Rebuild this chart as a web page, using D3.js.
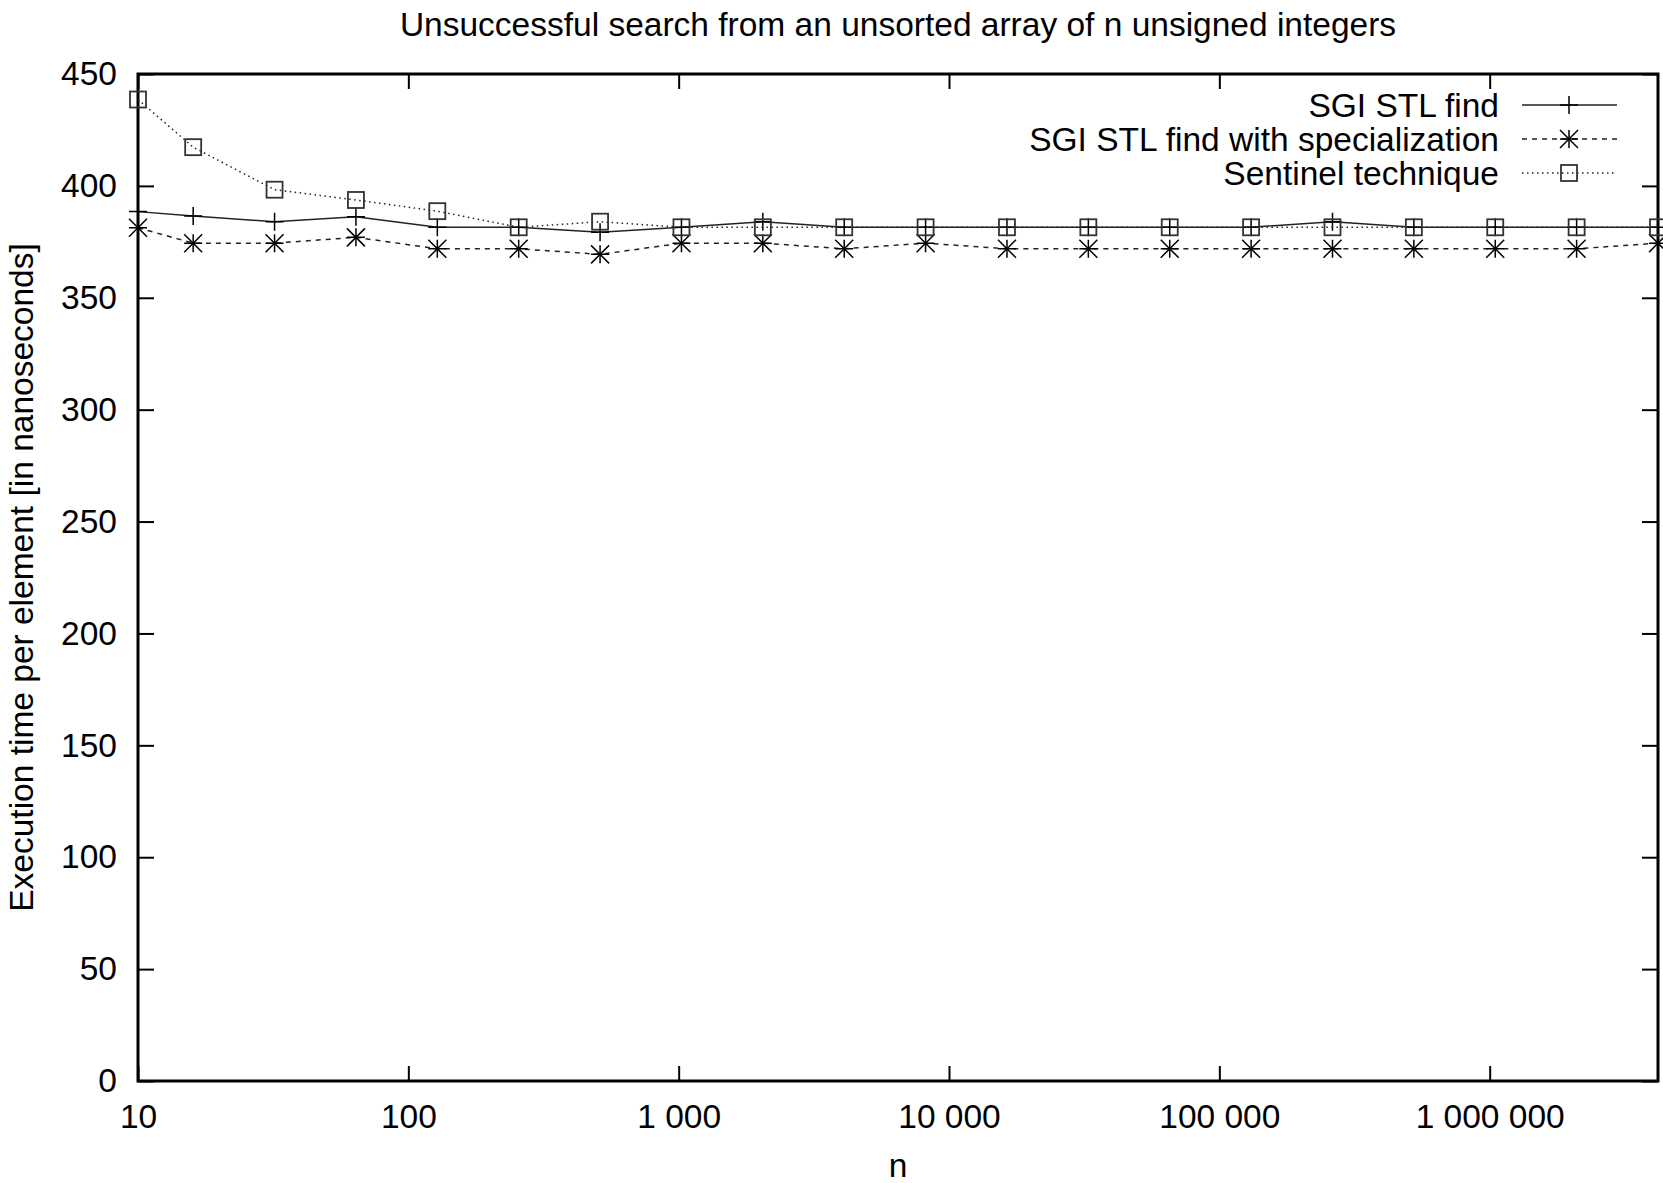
<!DOCTYPE html>
<html lang="en">
<head>
    <meta charset="UTF-8">
    <title>Unsuccessful search</title>
    <script src="https://d3js.org/d3.v7.min.js"></script>
    <style>
        body { margin: 0; background: #fff; }
        text { font-family: "Liberation Sans", Arial, sans-serif; fill: #000; }
    </style>
</head>
<body>
<div id="chart"></div>

<script>
    // sizes of n (powers of two after 10)
    var sizes = [10, 16, 32, 64, 128, 256, 512, 1024, 2048, 4096, 8192, 16384, 32768,
                 65536, 131072, 262144, 524288, 1048576, 2097152, 4194304];

    var stlFind = [388.5, 386.5, 384, 386.2, 381.5, 381.5, 379.3, 381.5, 384, 381.5, 381.5,
                   381.5, 381.5, 381.5, 381.5, 384, 381.5, 381.5, 381.5, 381.5];
    var stlFindSpec = [381.3, 374.4, 374.4, 377, 371.9, 371.9, 369.4, 374.4, 374.4, 371.9, 374.4,
                       371.9, 371.9, 371.9, 371.9, 371.9, 371.9, 371.9, 371.9, 374.4];
    var sentinel = [438.6, 417.3, 398.3, 393.7, 388.7, 381.5, 384, 381.5, 381.5, 381.5, 381.5,
                    381.5, 381.5, 381.5, 381.5, 381.5, 381.5, 381.5, 381.5, 381.5];

    var seriesNames = ["SGI STL find", "SGI STL find with specialization", "Sentinel technique"];
    var xTicks = [10, 100, 1000, 10000, 100000, 1000000];
    var yTicks = [0, 50, 100, 150, 200, 250, 300, 350, 400, 450];

    var w = 1663;
    var h = 1183;
    var plotL = 138, plotR = 1658, plotT = 74, plotB = 1081;
    var fontSize = "33.5px";

    var svg = d3.select("#chart")
                .append("svg")
                .attr("width", w)
                .attr("height", h);

    var x = d3.scaleLog().domain([10, 4194304]).range([plotL, plotR]);
    var y = d3.scaleLinear().domain([0, 450]).range([plotB, plotT]);

    var fmt = function(d) {
        return d3.format(",")(d).replace(/,/g, " ");
    };

    // title
    svg.append("text")
       .attr("x", (plotL + plotR) / 2)
       .attr("y", 36)
       .attr("text-anchor", "middle")
       .style("font-size", fontSize)
       .text("Unsuccessful search from an unsorted array of n unsigned integers");

    // axes with inward ticks on all sides
    var bottomAxis = d3.axisBottom(x).tickValues(xTicks).tickSizeInner(-15).tickSizeOuter(0)
                       .tickPadding(23).tickFormat(fmt);
    var topAxis = d3.axisTop(x).tickValues(xTicks).tickSizeInner(-15).tickSizeOuter(0)
                    .tickFormat("");
    var leftAxis = d3.axisLeft(y).tickValues(yTicks).tickSizeInner(-16).tickSizeOuter(0)
                     .tickPadding(21);
    var rightAxis = d3.axisRight(y).tickValues(yTicks).tickSizeInner(-16).tickSizeOuter(0)
                      .tickFormat("");

    var gb = svg.append("g").attr("transform", "translate(0," + plotB + ")").call(bottomAxis);
    var gt = svg.append("g").attr("transform", "translate(0," + plotT + ")").call(topAxis);
    var gl = svg.append("g").attr("transform", "translate(" + plotL + ",0)").call(leftAxis);
    var gr = svg.append("g").attr("transform", "translate(" + plotR + ",0)").call(rightAxis);

    [gb, gt, gl, gr].forEach(function(g) {
        g.select(".domain").remove();
        g.selectAll(".tick line").attr("stroke", "#000").attr("stroke-width", 2);
        g.selectAll(".tick text")
         .style("font-size", fontSize)
         .style("font-family", "'Liberation Sans', Arial, sans-serif");
    });
    gb.selectAll(".tick text").attr("dy", "0.71em");

    // frame
    svg.append("rect")
       .attr("x", plotL).attr("y", plotT)
       .attr("width", plotR - plotL).attr("height", plotB - plotT)
       .attr("fill", "none").attr("stroke", "#000").attr("stroke-width", 3);

    // axis labels
    svg.append("text")
       .attr("transform", "translate(33," + ((plotT + plotB) / 2) + ") rotate(-90)")
       .attr("text-anchor", "middle")
       .style("font-size", fontSize)
       .text("Execution time per element [in nanoseconds]");

    svg.append("text")
       .attr("x", (plotL + plotR) / 2)
       .attr("y", 1177)
       .attr("text-anchor", "middle")
       .style("font-size", fontSize)
       .text("n");

    // marker shapes, gnuplot style
    function marker(g, type, cx, cy) {
        var r = 9;
        if (type === "plus" || type === "star") {
            g.append("path")
             .attr("d", "M" + (cx - r) + "," + cy + "H" + (cx + r) + "M" + cx + "," + (cy - r) + "V" + (cy + r))
             .attr("stroke", "#000").attr("stroke-width", 1.5).attr("fill", "none");
        }
        if (type === "star") {
            g.append("path")
             .attr("d", "M" + (cx - r) + "," + (cy - r) + "L" + (cx + r) + "," + (cy + r) +
                        "M" + (cx - r) + "," + (cy + r) + "L" + (cx + r) + "," + (cy - r))
             .attr("stroke", "#000").attr("stroke-width", 1.5).attr("fill", "none");
        }
        if (type === "box") {
            g.append("rect")
             .attr("x", cx - 8).attr("y", cy - 8).attr("width", 16).attr("height", 16)
             .attr("stroke", "#333").attr("stroke-width", 1.8).attr("fill", "none");
        }
    }

    var series = [
        { name: seriesNames[0], values: stlFind, dash: null, marker: "plus" },
        { name: seriesNames[1], values: stlFindSpec, dash: "5,5", marker: "star" },
        { name: seriesNames[2], values: sentinel, dash: "1.5,3.5", marker: "box" }
    ];

    var line = d3.line()
                 .x(function(d) { return x(d[0]); })
                 .y(function(d) { return y(d[1]); });

    var plot = svg.append("g");
    series.forEach(function(s) {
        var pts = sizes.map(function(n, i) { return [n, s.values[i]]; });
        plot.append("path")
            .datum(pts)
            .attr("d", line)
            .attr("fill", "none")
            .attr("stroke", "#222")
            .attr("stroke-width", 1.5)
            .attr("stroke-dasharray", s.dash);
        pts.forEach(function(p) {
            marker(plot, s.marker, x(p[0]), y(p[1]));
        });
    });

    // legend
    var legend = svg.append("g");
    series.forEach(function(s, i) {
        var ly = 105 + i * 34;
        legend.append("text")
              .attr("x", 1499).attr("y", ly)
              .attr("dy", "0.35em")
              .attr("text-anchor", "end")
              .style("font-size", fontSize)
              .text(s.name);
        legend.append("line")
              .attr("x1", 1522).attr("x2", 1617)
              .attr("y1", ly).attr("y2", ly)
              .attr("stroke", "#222").attr("stroke-width", 1.5)
              .attr("stroke-dasharray", s.dash);
        marker(legend, s.marker, 1569, ly);
    });
</script>
</body>
</html>
